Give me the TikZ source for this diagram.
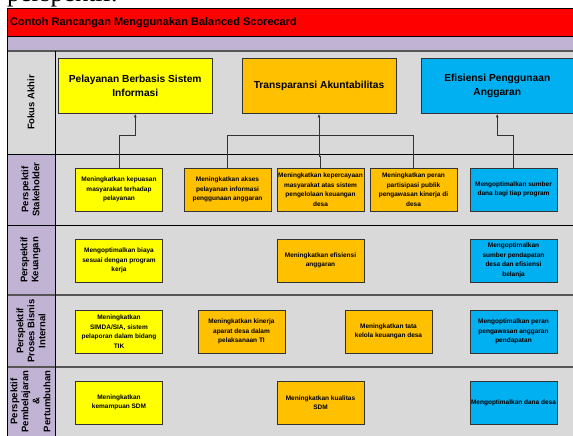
\documentclass[tikz,border=0pt]{standalone}
\usepackage{fontspec}
\setmainfont{Liberation Sans}
\newfontfamily\serifdoc{Liberation Serif}
\usetikzlibrary{arrows.meta}
\definecolor{redbar}{HTML}{FF0000}
\definecolor{lav}{HTML}{C0B3D4}
\definecolor{bg}{HTML}{D9D9D9}
\definecolor{yel}{HTML}{FFFF00}
\definecolor{org}{HTML}{FFC000}
\definecolor{blu}{HTML}{00B0F0}
\definecolor{edge}{HTML}{333333}
\definecolor{rule}{HTML}{555555}
\tikzset{
  box/.style={draw=edge, line width=0.8pt, inner sep=0pt, align=center,
    font=\bfseries\fontsize{6.5}{9.5}\selectfont},
  smallbox/.style={box, minimum width=87pt, minimum height=43pt},
  bigbox/.style={box, minimum height=55.5pt, font=\bfseries\fontsize{10.2}{14}\selectfont},
  rowlabel/.style={rotate=90, align=center, inner sep=0pt,
    font=\bfseries\fontsize{9.5}{11}\selectfont},
  conn/.style={draw=edge, line width=0.8pt},
  arr/.style={conn, -{Latex[length=3.5pt,width=3pt]}},
  gridline/.style={line width=0.8pt, draw=black},
  softline/.style={line width=1.2pt, draw=rule}
}
\begin{document}
\begin{tikzpicture}[x=1pt,y=-1pt]
\useasboundingbox (0,0) rectangle (573,436);
\clip (0,0) rectangle (573,436);
\fill[white] (0,0) rectangle (573,436);
% clipped document text above the figure
\node[anchor=base west, inner sep=0pt, font=\serifdoc\fontsize{26}{26}\selectfont] (doctext) at (7,2) {perspektif.};
% bands
\fill[redbar] (7,8) rectangle (580,36);
\fill[lav] (7,36) rectangle (580,51);
\fill[bg] (7,51) rectangle (580,440);
\fill[lav] (7,154) rectangle (55,440);
% grid lines
\draw[gridline] (7,8) -- (580,8);
\draw[gridline] (7,36) -- (580,36);
\draw[softline] (7,51) -- (580,51);
\draw[gridline] (7,154) -- (580,154);
\draw[gridline] (7,225) -- (580,225);
\draw[softline] (7,295) -- (580,295);
\draw[softline] (7,367) -- (580,367);
\draw[line width=1pt] (7,8) -- (7,440);
\draw[gridline] (55,51) -- (55,440);
% title
\node[anchor=west, inner sep=0pt, font=\bfseries\fontsize{11}{13}\selectfont] (title) at (10,22.5) {Contoh Rancangan Menggunakan Balanced Scorecard};
% row labels
\node[rowlabel] (l1) at (31,102.5) {Fokus Akhir};
\node[rowlabel] (l2) at (30.5,189.5) {Perspektif\\Stakeholder};
\node[rowlabel] (l3) at (30.5,260) {Perspektif\\Keuangan};
\node[rowlabel] (l4) at (31,331) {Perspektif\\Proses Bisnis\\Internal};
\node[rowlabel] (l5) at (30.5,401.5) {Perspektif\\Pembelajaran\\\&\\Pertumbuhan};
% row 1
\node[bigbox, fill=yel, minimum width=153.5pt] (y1) at (135.25,85.75) {Pelayanan Berbasis Sistem\\Informasi};
\node[bigbox, fill=org, minimum width=154pt] (o1) at (319,85.75) {Transparansi Akuntabilitas};
\node[bigbox, fill=blu, minimum width=152.5pt] (b1) at (497.25,85.75) {Efisiensi Penggunaan\\Anggaran};
% row 2
\node[smallbox, fill=yel] (y2) at (119,189.5) {Meningkatkan kepuasan\\masyarakat terhadap\\pelayanan};
\node[smallbox, fill=org] (o21) at (227.5,189.5) {Meningkatkan akses\\pelayanan informasi\\penggunaan anggaran};
\node[smallbox, fill=org] (o22) at (320.5,189.5) {Meningkatkan kepercayaan\\masyarakat atas sistem\\pengelolaan keuangan\\desa};
\node[smallbox, fill=org] (o23) at (413.5,189.5) {Meningkatkan peran\\partisipasi publik\\pengawasan kinerja di\\desa};
\node[smallbox, fill=blu] (b2) at (513.5,189.5) {Mengoptimalkan sumber\\dana bagi tiap program};
% row 3
\node[smallbox, fill=yel] (y3) at (119,260.5) {Mengoptimalkan biaya\\sesuai dengan program\\kerja};
\node[smallbox, fill=org] (o3) at (320.5,260.5) {Meningkatkan efisiensi\\anggaran};
\node[smallbox, fill=blu] (b3) at (513.5,260.5) {Mengoptimalkan\\sumber pendapatan\\desa dan efisiensi\\belanja};
% row 4
\node[smallbox, fill=yel] (y4) at (119,331.5) {Meningkatkan\\SIMDA/SIA, sistem\\pelaporan dalam bidang\\TIK};
\node[smallbox, fill=org] (o41) at (241.5,331.5) {Meningkatkan kinerja\\aparat desa dalam\\pelaksanaan TI};
\node[smallbox, fill=org] (o42) at (388.5,331.5) {Meningkatkan tata\\kelola keuangan desa};
\node[smallbox, fill=blu] (b4) at (513.5,331.5) {Mengoptimalkan peran\\pengawasan anggaran\\pendapatan};
% row 5
\node[smallbox, fill=yel] (y5) at (119,402.5) {Meningkatkan\\kemampuan SDM};
\node[smallbox, fill=org] (o5) at (320.5,402.5) {Meningkatkan kualitas\\SDM};
\node[smallbox, fill=blu] (b5) at (513.5,402.5) {Mengoptimalkan dana desa};
% connectors
\coordinate (yj) at (0,135);
\coordinate (jog) at (0,156);
\draw[arr] (y2.north) -- (y2.north |- yj) -| (y1.south);
\draw[arr] (o22.north) |- (o1.south |- jog) -- (o1.south);
\draw[conn] (o21.north) |- (o23.north |- yj) -- (o23.north);
\draw[arr] (b2.north) -- (b2.north |- yj) -| (b1.south);
\end{tikzpicture}
\end{document}
